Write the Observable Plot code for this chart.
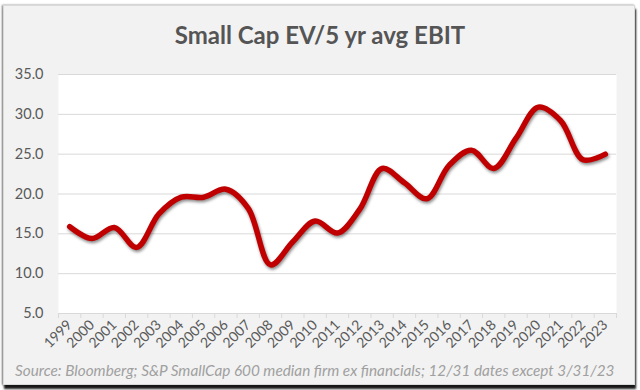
<!DOCTYPE html>
<html>
<head>
<meta charset="utf-8">
<script src="https://cdn.jsdelivr.net/npm/d3@7"></script>
<script src="https://cdn.jsdelivr.net/npm/@observablehq/plot@0.6"></script>
<style>
  html, body { margin: 0; padding: 0; background: #fff; width: 640px; height: 390px; overflow: hidden; }
  #panel { position: absolute; left: 3px; top: 5px; width: 630px; height: 378px; background: #f2f2f2;
    border: 1px solid #d9d9d9; box-shadow: 1px 4px 2px rgba(0,0,0,0.9), -1px 0 2px rgba(0,0,0,0.5); }
  #title { position: absolute; left: 0; top: 20px; width: 640px; text-align: center; font-family: Lato, sans-serif;
    font-size: 24px; font-weight: bold; color: #555555; }
  #chart { position: absolute; left: 0; top: 0; }
  #caption { position: absolute; left: 15px; top: 361px; font-family: Lato, sans-serif; font-style: italic;
    font-size: 15.3px; color: #a0a0a0; white-space: nowrap; }
</style>
</head>
<body>
<div id="panel"></div>
<div id="chart"></div>
<div id="title">Small Cap EV/5 yr avg EBIT</div>
<div id="caption">Source: Bloomberg; S&amp;P SmallCap 600 median firm ex financials; 12/31 dates except 3/31/23</div>
<script>
const years = [1999,2000,2001,2002,2003,2004,2005,2006,2007,2008,2009,2010,2011,2012,2013,2014,2015,2016,2017,2018,2019,2020,2021,2022,2023];
const values = [15.9,14.4,15.8,13.3,17.5,19.6,19.6,20.6,18.2,11.1,14.0,16.6,15.1,18.1,23.2,21.4,19.4,23.6,25.5,23.2,27.0,30.9,29.2,24.3,25.0];
const yTicks = [5,10,15,20,25,30,35];
const boundaries = years.map(y => y - 0.5).concat([years[years.length - 1] + 0.5]);

const data = years.map((y, i) => ({year: y, value: values[i]}));

const chart = Plot.plot({
  width: 640,
  height: 360,
  marginLeft: 58,
  marginRight: 24,
  marginTop: 74,
  marginBottom: 47,
  style: {background: "transparent", color: "#595959", fontFamily: "Lato, sans-serif", overflow: "visible"},
  x: {domain: [boundaries[0], boundaries[boundaries.length - 1]]},
  y: {domain: [5, 35]},
  marks: [
    Plot.frame({fill: "white", stroke: null}),
    Plot.gridY(yTicks, {stroke: "#d9d9d9", strokeOpacity: 1, strokeWidth: 1}),
    Plot.axisY(yTicks, {tickSize: 0, tickPadding: 15, tickFormat: d3.format(".1f"), fontSize: 14.5, fill: "#595959", label: null}),
    Plot.axisX(boundaries, {tickSize: 5, tickFormat: () => "", stroke: "#d9d9d9", label: null}),
    Plot.axisX(years, {tickSize: 0, tickPadding: 9, tickRotate: -45, tickFormat: d => String(d), fontSize: 14, fill: "#595959", label: null}),
    Plot.line(data, {x: "year", y: "value", curve: "catmull-rom", stroke: "#c00000", strokeWidth: 5.5, strokeLinecap: "round", strokeLinejoin: "round"})
  ]
});
document.getElementById("chart").appendChild(chart);
d3.select(chart).selectAll("g[aria-label=line] path").style("filter", "drop-shadow(1px 2px 1.5px rgba(0,0,0,0.45))");
</script>
</body>
</html>
